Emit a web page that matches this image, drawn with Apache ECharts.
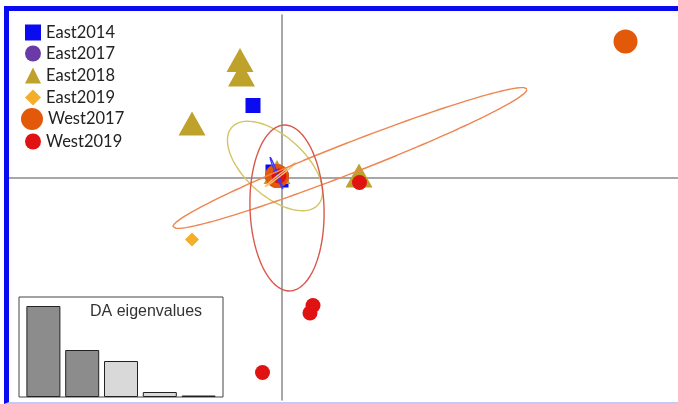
<!DOCTYPE html>
<html>
<head>
<meta charset="utf-8">
<script src="https://cdn.jsdelivr.net/npm/echarts@6/dist/echarts.min.js"></script>
<style>
  html, body { margin: 0; padding: 0; background: #fff; }
  #frame {
    position: absolute; left: 4px; top: 6px;
    width: 669px; height: 391px;
    border-left: 5px solid #0a0af0;
    border-top: 5px solid #0a0af0;
    border-bottom: 2px solid #c8c8f6;
  }
  #chart { width: 669px; height: 391px; }
</style>
</head>
<body>
<div id="frame"><div id="chart"></div></div>
<script>
// Discriminant analysis scores (DF1, DF2) per sampling group
const groups = ['East2014', 'East2017', 'East2018', 'East2019', 'West2017', 'West2019'];
const east2014 = [[-0.58, 1.45], [-0.18, 0.12], [-0.02, -0.04]];
const east2017 = [[-0.08, 0.04]];
const east2018 = [[-0.84, 2.36], [-0.81, 2.07], [-1.80, 1.09], [1.54, 0.05], [-0.10, 0.12]];
const east2019 = [[-1.80, -1.23], [-0.04, 0.04]];
const west2017 = [[6.87, 2.73], [-0.10, 0.04]];
const west2019 = [[1.55, -0.09], [0.62, -2.55], [0.56, -2.70], [-0.39, -3.89], [-0.06, 0.04]];

// Inertia ellipses: centre x, centre y, semi-major, semi-minor, angle (deg)
const ellipseEast2014 = [-0.11, 0.10, 0.345, 0.02, 112];
const ellipseEast2018 = [-0.14, 0.24, 1.16, 0.60, -42];
const ellipseEast2019 = [-0.04, 0.06, 0.40, 0.02, 38];
const ellipseWest2017 = [1.36, 0.40, 3.80, 0.30, 21.3];
const ellipseWest2019 = [0.10, -0.60, 1.66, 0.74, 92];

// DA eigenvalues (inset)
const eigCategories = ['1', '2', '3', '4', '5'];
const eigValues = [91, 47, 36, 5, 1.5];

const colors = {
  East2014: '#0b0bf2',
  East2017: '#6a3aa6',
  East2018: '#bfa22c',
  East2019: '#f4ae2a',
  West2017: '#e2590a',
  West2019: '#e01212'
};

function ellipsePoints(p) {
  const [cx, cy, a, b, deg] = p;
  const t = deg * Math.PI / 180;
  const pts = [];
  const n = 160;
  for (let i = 0; i <= n; i++) {
    const u = i / n * 2 * Math.PI;
    pts.push([
      cx + a * Math.cos(u) * Math.cos(t) - b * Math.sin(u) * Math.sin(t),
      cy + a * Math.cos(u) * Math.sin(t) + b * Math.sin(u) * Math.cos(t)
    ]);
  }
  return pts;
}

const chart = echarts.init(document.getElementById('chart'), null, { renderer: 'canvas' });

const legendFont = { fontFamily: 'Lato, sans-serif', fontSize: 16.5, color: '#222' };
function legendItem(name, top, left, size) {
  return {
    data: [name], top: top, left: left, orient: 'vertical',
    itemWidth: size, itemHeight: size, padding: 0,
    textStyle: Object.assign({ lineHeight: size }, legendFont)
  };
}

function scatter(name, data, symbol, size) {
  return {
    name: name, type: 'scatter', data: data,
    xAxisIndex: 0, yAxisIndex: 0,
    symbol: symbol, symbolSize: size,
    itemStyle: { color: colors[name], opacity: 1 },
    emphasis: { disabled: true },
    z: 2
  };
}

function ellipse(name, params, color, width) {
  return {
    name: name, type: 'line', data: ellipsePoints(params),
    xAxisIndex: 0, yAxisIndex: 0,
    showSymbol: false, smooth: false, silent: true,
    lineStyle: { color: color, width: width },
    z: 3
  };
}

const hiddenAxis = {
  axisLine: { show: false }, axisTick: { show: false },
  axisLabel: { show: false }, splitLine: { show: false }
};

const option = {
  animation: false,
  backgroundColor: '#fff',
  title: {
    text: 'DA eigenvalues', left: 81, top: 293, padding: 0,
    textStyle: { fontFamily: 'Liberation Sans, Arial, sans-serif', fontSize: 16, fontWeight: 'normal', color: '#333' }
  },
  legend: [
    legendItem('East2014', 13, 16, 16),
    legendItem('East2017', 34, 16, 16),
    legendItem('East2018', 56, 16, 16),
    legendItem('East2019', 78, 16, 16),
    legendItem('West2017', 97, 12, 22),
    legendItem('West2019', 122, 16, 16)
  ],
  grid: [
    { left: 0, right: 0, top: 4, bottom: 2 },
    { left: 10, top: 286, width: 204, height: 100, show: true, borderColor: '#444', borderWidth: 1, backgroundColor: 'rgba(0,0,0,0)' },
    { left: 15, top: 286, width: 194, height: 100 }
  ],
  xAxis: [
    {
      type: 'value', gridIndex: 0, min: -5.46, max: 7.92,
      axisLine: { show: true, onZero: true, lineStyle: { color: '#8a8a8a', width: 1.5 } },
      axisTick: { show: false }, axisLabel: { show: false }, splitLine: { show: false }
    },
    Object.assign({ type: 'value', gridIndex: 1, min: 0, max: 1 }, hiddenAxis),
    Object.assign({ type: 'category', gridIndex: 2, data: eigCategories }, hiddenAxis)
  ],
  yAxis: [
    {
      type: 'value', gridIndex: 0, min: -4.44, max: 3.26,
      axisLine: { show: true, onZero: true, lineStyle: { color: '#8a8a8a', width: 1.5 } },
      axisTick: { show: false }, axisLabel: { show: false }, splitLine: { show: false }
    },
    Object.assign({ type: 'value', gridIndex: 1, min: 0, max: 1 }, hiddenAxis),
    Object.assign({ type: 'value', gridIndex: 2, min: 0, max: 100 }, hiddenAxis)
  ],
  series: [
    scatter('East2014', east2014, 'rect', 15),
    scatter('East2017', east2017, 'circle', 14),
    scatter('East2018', east2018, 'triangle', [27, 24]),
    scatter('East2019', east2019, 'diamond', 14),
    scatter('West2017', west2017, 'circle', 24),
    scatter('West2019', west2019, 'circle', 15),
    ellipse('East2014 ellipse', ellipseEast2014, '#3a3aff', 1.3),
    ellipse('East2018 ellipse', ellipseEast2018, '#d4c462', 1.4),
    ellipse('East2019 ellipse', ellipseEast2019, '#f6c27a', 1.3),
    ellipse('West2017 ellipse', ellipseWest2017, '#ef8550', 1.4),
    ellipse('West2019 ellipse', ellipseWest2019, '#d9584c', 1.4),
    {
      name: 'eigenvalues', type: 'bar', data: eigValues,
      xAxisIndex: 2, yAxisIndex: 2, barWidth: 34, silent: true,
      itemStyle: {
        color: function (p) { return p.dataIndex < 2 ? '#8c8c8c' : '#d9d9d9'; },
        borderColor: '#222', borderWidth: 1
      }
    }
  ]
};

chart.setOption(option);
</script>
</body>
</html>
